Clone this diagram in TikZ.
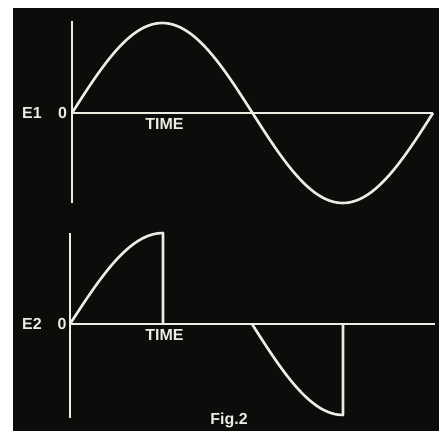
\documentclass[tikz,border=0pt]{standalone}
\usepackage{fontspec}
\setmainfont{Liberation Sans}
\usetikzlibrary{positioning,calc}
\definecolor{scope}{RGB}{12,12,10}
\definecolor{trace}{RGB}{236,236,226}

\begin{document}
\begin{tikzpicture}[x=1pt,y=-1pt,
  every node/.style={font=\bfseries\fontsize{16}{18}\selectfont,text=trace,inner sep=0pt},
  axis/.style={draw=trace,line width=2.2pt},
  wave/.style={draw=trace,line width=2.6pt,line join=round,smooth}]
\useasboundingbox (0,0) rectangle (439,431);
\fill[white] (0,0) rectangle (439,431);
\fill[scope] (13,8) rectangle (439,431);
% upper trace
\coordinate (oA) at (72,113);
\coordinate (topA) at (72,21);
\coordinate (botA) at (72,203);
\coordinate (endA) at (433,113);
\draw[axis] (topA) -- (botA);
\draw[axis] (oA) -- (endA);
\draw[wave] plot[domain=0:360,samples=73] ({72+1.00278*\x},{113-90*sin(\x)});
\node (eA) at (32,113) {E1};
\node (zA) at (62.5,113) {0};
\node (tA) at (164.5,124) {TIME};
% lower trace
\coordinate (oB) at (70,324);
\coordinate (topB) at (70,233);
\coordinate (botB) at (70,418);
\coordinate (endB) at (435,324);
\coordinate (cutB) at (163,324);
\coordinate (cutC) at (343,324);
\draw[axis] (topB) -- (botB);
\draw[axis] (oB) -- (endB);
\draw[wave] plot[domain=0:90,samples=19] ({70+1.0333*\x},{324-91*sin(\x)}) -- (cutB);
\draw[wave] plot[domain=0:90,samples=19] ({252+1.0111*\x},{324+91*sin(\x)}) -- (cutC);
\node (eB) at (32,324) {E2};
\node (zB) at (62,324) {0};
\node (tB) at (164.5,335) {TIME};
\node (fig) at (229,420) {Fig.2};
\end{tikzpicture}
\end{document}
